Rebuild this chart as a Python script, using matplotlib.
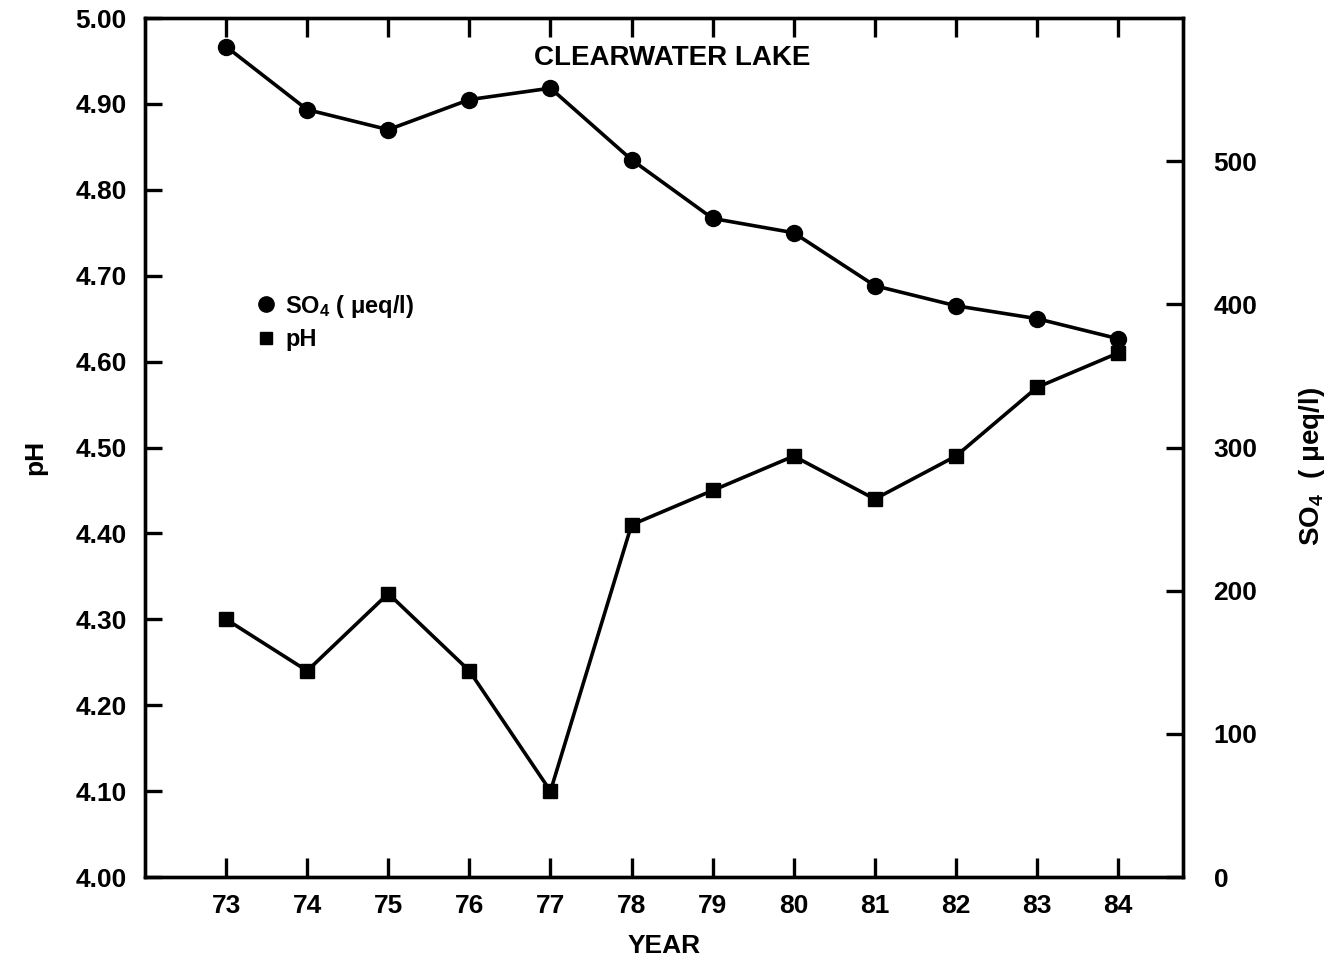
import matplotlib.pyplot as plt
from matplotlib.lines import Line2D

plt.rcParams['font.family'] = ['Liberation Sans', 'DejaVu Sans']
plt.rcParams['font.weight'] = 'bold'
plt.rcParams['mathtext.fontset'] = 'custom'
plt.rcParams['mathtext.rm'] = 'Liberation Sans:bold'
plt.rcParams['mathtext.bf'] = 'Liberation Sans:bold'
plt.rcParams['mathtext.it'] = 'Liberation Sans:bold'

years = [73, 74, 75, 76, 77, 78, 79, 80, 81, 82, 83, 84]
ph = [4.30, 4.24, 4.33, 4.24, 4.10, 4.41, 4.45, 4.49, 4.44, 4.49, 4.57, 4.61]
so4 = [580, 536, 522, 543, 551, 501, 460, 450, 413, 399, 390, 376]

ph_ticks = [4.0 + 0.1 * i for i in range(11)]
so4_ticks = [0, 100, 200, 300, 400, 500]

fig = plt.figure(figsize=(13.34, 9.63), dpi=100)
ax = fig.add_axes([0.1087, 0.0893, 0.7781, 0.8920])
ax2 = ax.twinx()

lw = 2.6
ax.plot(years, ph, color='black', lw=lw, marker='s', markersize=10, zorder=3)
ax2.plot(years, so4, color='black', lw=lw, marker='o', markersize=11.5, zorder=3)

ax.set_xlim(72, 84.8)
ax.set_ylim(4.0, 5.0)
ax2.set_ylim(0, 600)

ax.set_xticks(years)
ax.set_xticklabels([str(y) for y in years])
ax.set_yticks(ph_ticks)
ax.set_yticklabels([f"{v:.2f}" for v in ph_ticks])
ax2.set_yticks(so4_ticks)

for a in (ax, ax2):
    for s in a.spines.values():
        s.set_linewidth(2.4)

fs = 19
ax.tick_params(axis='x', which='both', direction='in', top=True, bottom=True,
               length=14, width=2.4, labelsize=fs, pad=12)
ax.tick_params(axis='y', direction='in', left=True, right=False,
               length=12, width=2.4, labelsize=fs, pad=13)
ax2.tick_params(axis='y', direction='in', right=True, left=False,
                length=12, width=2.4, labelsize=fs, pad=22)

ax.set_xlabel('YEAR', fontsize=fs, fontweight='bold', labelpad=12)
ax.set_ylabel('pH', fontsize=fs, fontweight='bold')
ax.yaxis.set_label_coords(-0.094, 0.488)
ax2.set_ylabel(r'SO$_4$  ( $\mu$eq/l)', fontsize=20, fontweight='bold',
               rotation=90)
ax2.yaxis.set_label_coords(1.110, 0.478)

ax.text(0.508, 0.953, 'CLEARWATER LAKE', transform=ax.transAxes,
        ha='center', va='center', fontsize=20, fontweight='bold')

handles = [
    Line2D([], [], color='black', marker='o', linestyle='none', markersize=11),
    Line2D([], [], color='black', marker='s', linestyle='none', markersize=9),
]
ax.legend(handles, [r'SO$_4$ ( $\mu$eq/l)', 'pH'], loc='upper left',
          bbox_to_anchor=(0.085, 0.705), frameon=False, fontsize=17,
          handletextpad=0.3, labelspacing=0.35, handlelength=1.0)

fig.savefig('out.png', dpi=100)
